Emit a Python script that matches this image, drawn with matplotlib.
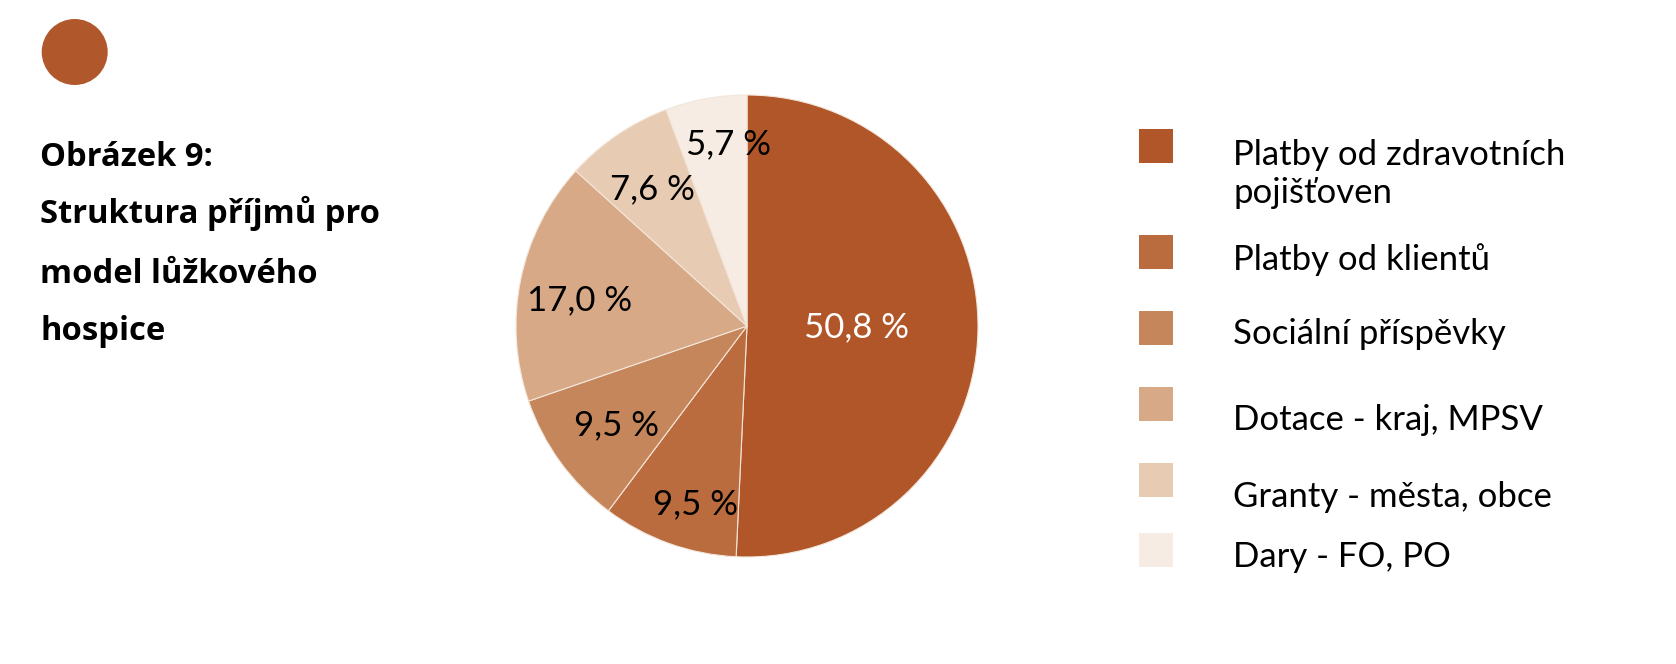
import matplotlib
matplotlib.use("Agg")
import matplotlib.pyplot as plt
from matplotlib.patches import Rectangle, Ellipse

# ---- data ----
categories = [
    "Platby od zdravotních\npojišťoven",
    "Platby od klientů",
    "Sociální příspěvky",
    "Dotace - kraj, MPSV",
    "Granty - města, obce",
    "Dary - FO, PO",
]
values = [50.8, 9.5, 9.5, 17.0, 7.6, 5.7]
title_lines = ["Obrázek 9:", "Struktura příjmů pro", "model lůžkového", "hospice"]

# ---- style ----
colors = ["#B05629", "#BB6C3E", "#C6865B", "#D7A987", "#E8CBB3", "#F6ECE3"]
label_colors = ["white", "black", "black", "black", "black", "black"]
# label centres in pie-radius units (relative to pie centre)
label_xy = [(0.472, 0.009), (-0.223, -0.758), (-0.567, -0.416),
            (-0.723, 0.123), (-0.411, 0.606), (-0.078, 0.801)]
legend_square_y = [146, 252, 328, 404, 480, 550]   # px from top (centre)
legend_text_base = [203, 270, 344, 430, 507, 567]  # px from top (last-line baseline)
title_baselines = [165.7, 222.7, 282.7, 340]

W, H = 1676, 664
FONT = ["Lato", "DejaVu Sans"]
TFONT = ["Open Sans", "Lato", "DejaVu Sans"]
plt.rcParams["font.family"] = FONT

fig = plt.figure(figsize=(W / 100, H / 100), dpi=100)
fig.patch.set_facecolor("white")

def fx(x):
    return x / W

def fy(y):
    return 1 - y / H

# pie axes
cx, cy, R = 747, 326, 231
ax = fig.add_axes([fx(cx - R), fy(cy + R), 2 * R / W, 2 * R / H])
wedges, _ = ax.pie(values, colors=colors, startangle=90, counterclock=False,
                   radius=1, wedgeprops=dict(edgecolor="#F3E6DA", linewidth=0.8))
ax.set_xlim(-1, 1)
ax.set_ylim(-1, 1)
ax.set_aspect("equal")
ax.axis("off")

for v, (lx, ly), c in zip(values, label_xy, label_colors):
    txt = f"{v:.1f}".replace(".", ",") + " %"
    ax.text(lx, ly, txt, ha="center", va="center_baseline", fontsize=25,
            color=c, family=FONT)

# decorative circle
fig.add_artist(Ellipse((fx(74.7), fy(52)), 66 / W, 66 / H,
                       transform=fig.transFigure, facecolor="#B1572C",
                       edgecolor="none"))

# title
for line, by in zip(title_lines, title_baselines):
    fig.text(fx(40), fy(by), line, ha="left", va="baseline",
             fontsize=23.6, fontweight="bold", color="black", family=TFONT)

# legend
for cat, col, sy, ty in zip(categories, colors, legend_square_y, legend_text_base):
    fig.add_artist(Rectangle((fx(1139), fy(sy + 17)), 34 / W, 34 / H,
                             transform=fig.transFigure, facecolor=col,
                             edgecolor="none"))
    fig.text(fx(1233), fy(ty), cat, ha="left", va="baseline", fontsize=25,
             color="black", linespacing=1.22, family=FONT)

fig.savefig("out.png", dpi=100, facecolor="white")
